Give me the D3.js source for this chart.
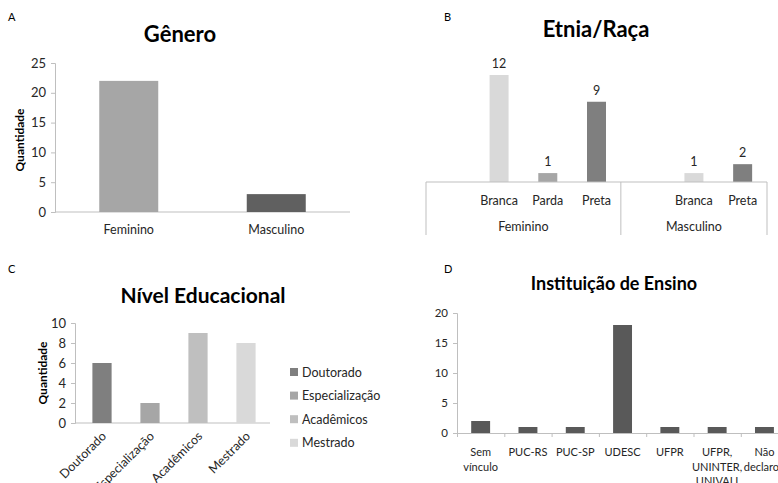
<!DOCTYPE html>
<html lang="pt">
<head>
<meta charset="UTF-8"/>
<script src="https://d3js.org/d3.v7.min.js"></script>
<style>
body { margin: 0; background: #fff; font-family: Lato, 'Open Sans', sans-serif; }
svg { display: block; }
text { fill: #262626; }
.tick-label { font-size: 12.5px; }
.axis-line { stroke: #bfbfbf; stroke-width: 1; }
.title { font-weight: 700; fill: #000; }
.ylab { font-size: 12px; font-weight: 700; fill: #000; }
.panel-letter { font-size: 11px; fill: #000; }
</style>
</head>
<body>
<svg width="778" height="483"></svg>
<script>
// A - Genero
const generoCats = ['Feminino', 'Masculino'];
const generoVals = [22, 3];
const generoColors = ['#a6a6a6', '#606060'];
const generoTicks = [0, 5, 10, 15, 20, 25];

// B - Etnia/Raca (grouped by sex, first slot of each group is empty)
const etniaGroups = ['Feminino', 'Masculino'];
const etniaFemCats = ['Branca', 'Parda', 'Preta'];
const etniaFemVals = [12, 1, 9];
const etniaMascCats = ['Branca', 'Preta'];
const etniaMascVals = [1, 2];
const etniaColors = { Branca: '#d9d9d9', Parda: '#a6a6a6', Preta: '#7f7f7f' };

// C - Nivel educacional
const nivelCats = ['Doutorado', 'Especialização', 'Acadêmicos', 'Mestrado'];
const nivelVals = [6, 2, 9, 8];
const nivelColors = ['#7f7f7f', '#a6a6a6', '#bfbfbf', '#d9d9d9'];
const nivelTicks = [0, 2, 4, 6, 8, 10];

// D - Instituicao de ensino
const instCats = ['Sem vínculo', 'PUC-RS', 'PUC-SP', 'UDESC', 'UFPR', 'UFPR, UNINTER, UNIVALI', 'Não declarou'];
const instLines = [['Sem', 'vínculo'], ['PUC-RS'], ['PUC-SP'], ['UDESC'], ['UFPR'], ['UFPR,', 'UNINTER,', 'UNIVALI'], ['Não', 'declarou']];
const instVals = [2, 1, 1, 18, 1, 1, 1];
const instTicks = [0, 5, 10, 15, 20];

const svg = d3.select('svg');

function letter(x, y, t) {
  svg.append('text').attr('class', 'panel-letter').attr('x', x).attr('y', y).text(t);
}
function title(x, y, size, t) {
  svg.append('text').attr('class', 'title').attr('x', x).attr('y', y)
    .attr('text-anchor', 'middle').style('font-size', size + 'px').text(t);
}
function yAxis(scale, ticks, x, fontSize) {
  const g = svg.append('g').attr('transform', `translate(${x},0)`)
    .call(d3.axisLeft(scale).tickValues(ticks).tickSize(4).tickPadding(5));
  g.select('.domain').attr('stroke', '#bfbfbf');
  g.selectAll('.tick line').attr('stroke', '#bfbfbf');
  g.selectAll('.tick text').attr('fill', '#262626')
    .style('font-size', fontSize + 'px').style('font-family', 'Lato, sans-serif');
  return g;
}

// ---------- A ----------
letter(8, 21, 'A');
title(180, 42, 22, 'Gênero');
const ax = d3.scaleBand().domain(generoCats).range([55, 350]).paddingInner(0.6).paddingOuter(0.3);
const ay = d3.scaleLinear().domain([0, 25]).range([212, 63]);
yAxis(ay, generoTicks, 55, 13);
svg.append('line').attr('class', 'axis-line')
  .attr('x1', 55).attr('x2', 350).attr('y1', ay(0)).attr('y2', ay(0));
svg.append('g').selectAll('rect').data(generoCats).join('rect')
  .attr('x', d => ax(d)).attr('width', ax.bandwidth())
  .attr('y', (d, i) => ay(generoVals[i]))
  .attr('height', (d, i) => ay(0) - ay(generoVals[i]))
  .attr('fill', (d, i) => generoColors[i]);
svg.append('g').selectAll('text').data(generoCats).join('text')
  .attr('class', 'tick-label')
  .attr('x', d => ax(d) + ax.bandwidth() / 2).attr('y', 234)
  .attr('text-anchor', 'middle').text(d => d);
svg.append('text').attr('class', 'ylab')
  .attr('transform', 'translate(24,140) rotate(-90)')
  .attr('text-anchor', 'middle').text('Quantidade');

// ---------- B ----------
letter(444, 21, 'B');
title(596, 37, 22, 'Etnia/Raça');
const etniaRows = [];
etniaGroups.forEach((g, gi) => {
  const cats = gi === 0 ? etniaFemCats : etniaMascCats;
  const vals = gi === 0 ? etniaFemVals : etniaMascVals;
  etniaRows.push({ key: g + '-blank', group: g, cat: '', value: null });
  cats.forEach((c, i) => etniaRows.push({ key: g + '-' + c, group: g, cat: c, value: vals[i] }));
});
const bx = d3.scaleBand().domain(etniaRows.map(r => r.key)).range([426, 767]).paddingInner(0.61).paddingOuter(0.305);
const step = bx.step();
const bxStart = 426;
const by = d3.scaleLinear().domain([0, 12]).range([182, 75]);
const bBars = etniaRows.filter(r => r.value !== null);
svg.append('g').selectAll('rect').data(bBars).join('rect')
  .attr('x', d => bx(d.key)).attr('width', bx.bandwidth())
  .attr('y', d => by(d.value)).attr('height', d => by(0) - by(d.value))
  .attr('fill', d => etniaColors[d.cat]);
svg.append('g').selectAll('text').data(bBars).join('text')
  .attr('class', 'tick-label')
  .attr('x', d => bx(d.key) + bx.bandwidth() / 2).attr('y', d => by(d.value) - 7)
  .attr('text-anchor', 'middle').text(d => d.value);
svg.append('line').attr('class', 'axis-line')
  .attr('x1', 426).attr('x2', 767).attr('y1', by(0)).attr('y2', by(0));
// group separators
const groupEdges = [bxStart];
etniaGroups.forEach(g => {
  const n = etniaRows.filter(r => r.group === g).length;
  groupEdges.push(groupEdges[groupEdges.length - 1] + n * step);
});
svg.append('g').selectAll('line').data(groupEdges).join('line')
  .attr('class', 'axis-line')
  .attr('x1', d => d).attr('x2', d => d).attr('y1', by(0)).attr('y2', 235);
svg.append('g').selectAll('text').data(bBars).join('text')
  .attr('class', 'tick-label')
  .attr('x', d => bx(d.key) + bx.bandwidth() / 2).attr('y', 205)
  .attr('text-anchor', 'middle').text(d => d.cat);
svg.append('g').selectAll('text').data(etniaGroups).join('text')
  .attr('class', 'tick-label')
  .attr('x', (d, i) => (groupEdges[i] + groupEdges[i + 1]) / 2).attr('y', 231)
  .attr('text-anchor', 'middle').text(d => d);

// ---------- C ----------
letter(8, 273, 'C');
title(203, 303, 21, 'Nível Educacional');
const cx = d3.scaleBand().domain(nivelCats).range([78, 270]).paddingInner(0.6).paddingOuter(0.3);
const cy = d3.scaleLinear().domain([0, 10]).range([423, 323]);
yAxis(cy, nivelTicks, 75, 13);
svg.append('line').attr('class', 'axis-line')
  .attr('x1', 75).attr('x2', 270).attr('y1', cy(0)).attr('y2', cy(0));
svg.append('g').selectAll('rect').data(nivelCats).join('rect')
  .attr('x', d => cx(d)).attr('width', cx.bandwidth())
  .attr('y', (d, i) => cy(nivelVals[i]))
  .attr('height', (d, i) => cy(0) - cy(nivelVals[i]))
  .attr('fill', (d, i) => nivelColors[i]);
// rotated labels run off the bottom edge, as in the source figure
svg.append('g').selectAll('text').data(nivelCats).join('text')
  .attr('class', 'tick-label')
  .attr('text-anchor', 'end')
  .attr('transform', d => `translate(${cx(d) + cx.bandwidth() / 2 + 5},${437}) rotate(-45)`)
  .text(d => d);
svg.append('text').attr('class', 'ylab')
  .attr('transform', 'translate(47,373) rotate(-90)')
  .attr('text-anchor', 'middle').text('Quantidade');
const legend = svg.append('g').selectAll('g').data(nivelCats).join('g')
  .attr('transform', (d, i) => `translate(290,${372 + i * 23.6})`);
legend.append('rect').attr('x', 0).attr('y', -4).attr('width', 8).attr('height', 8)
  .attr('fill', (d, i) => nivelColors[i]);
legend.append('text').attr('class', 'tick-label').attr('x', 12).attr('y', 4.5).text(d => d);

// ---------- D ----------
letter(444, 273, 'D');
title(614, 290, 18, 'Instituição de Ensino');
const dx = d3.scaleBand().domain(instCats).range([457, 457 + 7 * 47.3]).paddingInner(0.6).paddingOuter(0.3);
const dy = d3.scaleLinear().domain([0, 20]).range([433, 313]);
yAxis(dy, instTicks, 457, 11.5);
const dxAxis = svg.append('g').attr('transform', `translate(0,${dy(0)})`)
  .call(d3.axisBottom(d3.scaleLinear().domain([0, 7]).range([457, 457 + 7 * 47.3]))
    .tickValues(d3.range(0, 8)).tickSize(4).tickFormat(''));
dxAxis.select('.domain').attr('stroke', '#bfbfbf');
dxAxis.selectAll('.tick line').attr('stroke', '#bfbfbf');
svg.append('g').selectAll('rect').data(instCats).join('rect')
  .attr('x', d => dx(d)).attr('width', dx.bandwidth())
  .attr('y', (d, i) => dy(instVals[i]))
  .attr('height', (d, i) => dy(0) - dy(instVals[i]))
  .attr('fill', '#595959');
const dLabels = svg.append('g').selectAll('text').data(instCats).join('text')
  .attr('text-anchor', 'middle').style('font-size', '11px')
  .attr('x', d => dx(d) + dx.bandwidth() / 2).attr('y', 456);
dLabels.selectAll('tspan').data((d, i) => instLines[i]).join('tspan')
  .attr('x', function () { return d3.select(this.parentNode).attr('x'); })
  .attr('dy', (d, i) => i === 0 ? 0 : 14.5).text(d => d);
</script>
</body>
</html>
